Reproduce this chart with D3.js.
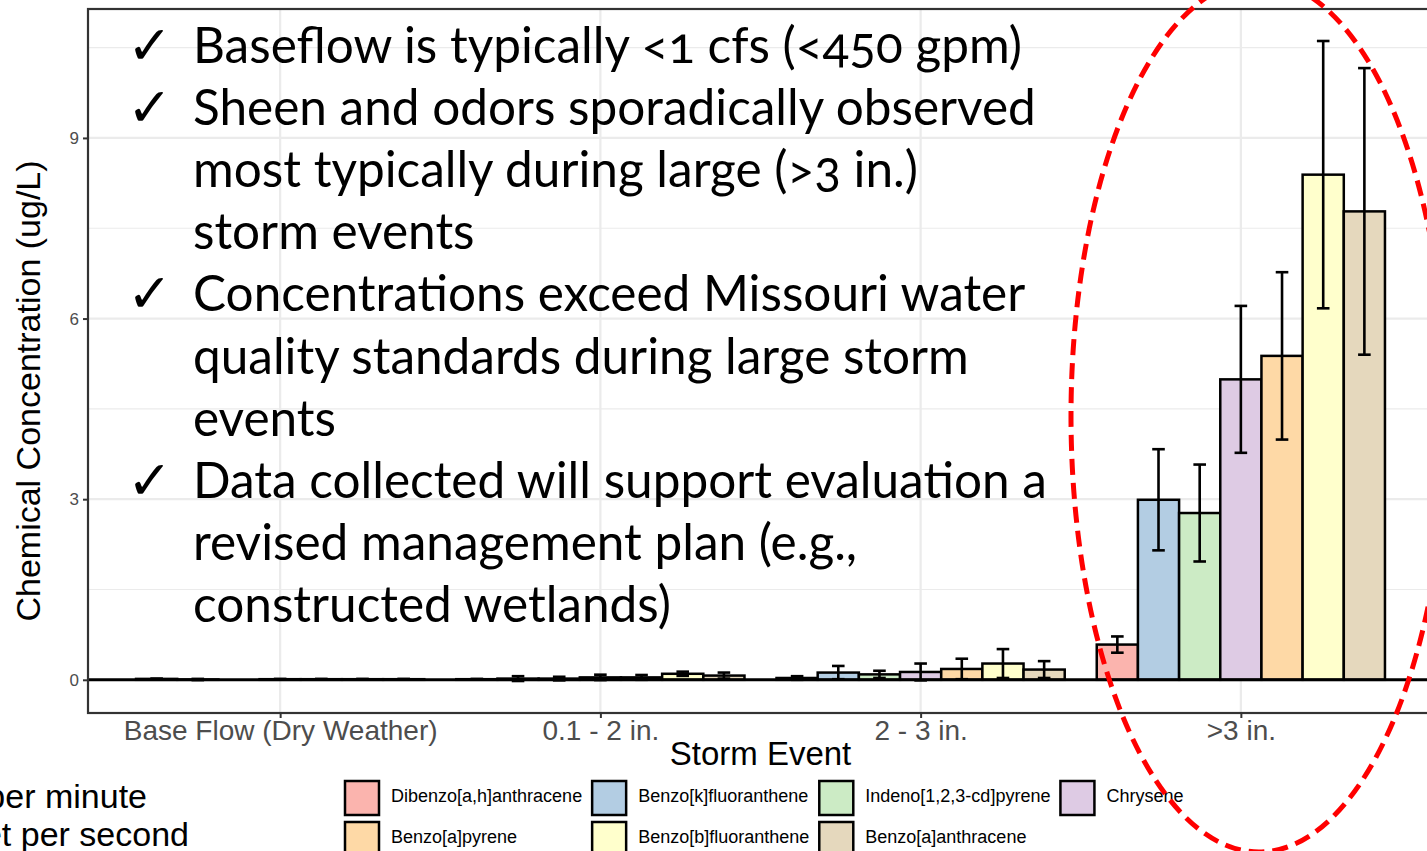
<!DOCTYPE html>
<html>
<head>
<meta charset="utf-8">
<script src="https://cdn.jsdelivr.net/npm/d3@7"></script>
<style>
  body { margin: 0; background: #fff; overflow: hidden; }
  svg { display: block; }
</style>
</head>
<body>
<script>
// storm categories on the x axis
const storms = ['Base Flow (Dry Weather)', '0.1 - 2 in.', '2 - 3 in.', '>3 in.'];
const chemicals = [
  'Dibenzo[a,h]anthracene', 'Benzo[k]fluoranthene', 'Indeno[1,2,3-cd]pyrene', 'Chrysene',
  'Benzo[a]pyrene', 'Benzo[b]fluoranthene', 'Benzo[a]anthracene',
];
const palette = ['#FBB4AE', '#B3CDE3', '#CCEBC5', '#DECBE4', '#FED9A6', '#FFFFCC', '#E5D8BD'];

// mean concentration (ug/L), one value per chemical, per storm class
const meanBase = [0.015, 0.005, 0.0, 0.01, 0.01, 0.01, 0.01];
const meanLight = [0.01, 0.02, 0.02, 0.04, 0.04, 0.10, 0.07];
const meanMid = [0.03, 0.12, 0.09, 0.13, 0.18, 0.27, 0.17];
const meanHeavy = [0.585, 2.99, 2.77, 4.99, 5.38, 8.39, 7.78];

// standard error (half height of the error bar)
const seBase = [0.005, 0.01, 0.0, 0.005, 0.005, 0.005, 0.005];
const seLight = [0.005, 0.04, 0.03, 0.045, 0.04, 0.035, 0.05];
const seMid = [0.03, 0.11, 0.06, 0.14, 0.17, 0.24, 0.14];
const seHeavy = [0.135, 0.84, 0.805, 1.22, 1.39, 2.22, 2.38];

const yTicks = [0, 3, 6, 9];

const bullets = [
  { check: true, text: 'Baseflow is typically <1 cfs (<450 gpm)' },
  { check: true, text: 'Sheen and odors sporadically observed' },
  { check: false, text: 'most typically during large (>3 in.)' },
  { check: false, text: 'storm events' },
  { check: true, text: 'Concentrations exceed Missouri water' },
  { check: false, text: 'quality standards during large storm' },
  { check: false, text: 'events' },
  { check: true, text: 'Data collected will support evaluation a' },
  { check: false, text: 'revised management plan (e.g.,' },
  { check: false, text: 'constructed wetlands)' },
];
const footnotes = ['gpm = gallons per minute', 'cfs = cubic feet per second'];

const means = [meanBase, meanLight, meanMid, meanHeavy];
const ses = [seBase, seLight, seMid, seHeavy];
const rows = storms.flatMap((s, i) => chemicals.map((c, j) => ({
  storm: s, chem: c, mean: means[i][j], lo: means[i][j] - ses[i][j], hi: means[i][j] + ses[i][j],
})));

const width = 1427;
const height = 851;
const panel = { left: 88, right: 1433, top: 9, bottom: 713 };
const sans = '"Liberation Sans", Arial, sans-serif';

const svg = d3.select('body').append('svg')
  .attr('width', width)
  .attr('height', height);

const x = d3.scalePoint().domain(storms).range([panel.left, panel.right]).padding(0.6);
const dodge = d3.scaleBand().domain(chemicals)
  .range([-0.45 * x.step(), 0.45 * x.step()]);
const color = d3.scaleOrdinal().domain(chemicals).range(palette);

const yMax = d3.max(rows, (d) => d.hi);
const yMin = Math.min(0, d3.min(rows, (d) => d.lo));
const pad = 0.05 * (yMax - yMin);
const y = d3.scaleLinear().domain([yMin - pad, yMax + pad]).range([panel.bottom, panel.top]);

svg.append('clipPath').attr('id', 'panel-clip')
  .append('rect')
  .attr('x', panel.left).attr('y', panel.top)
  .attr('width', panel.right - panel.left).attr('height', panel.bottom - panel.top);

const plot = svg.append('g').attr('clip-path', 'url(#panel-clip)');

// grid
plot.append('g').selectAll('line')
  .data(yTicks.map((t) => t + 1.5))
  .join('line')
  .attr('x1', panel.left).attr('x2', panel.right)
  .attr('y1', (d) => y(d)).attr('y2', (d) => y(d))
  .attr('stroke', '#EBEBEB').attr('stroke-width', 1.2);
plot.append('g').selectAll('line')
  .data(yTicks)
  .join('line')
  .attr('x1', panel.left).attr('x2', panel.right)
  .attr('y1', (d) => y(d)).attr('y2', (d) => y(d))
  .attr('stroke', '#EBEBEB').attr('stroke-width', 2.2);
plot.append('g').selectAll('line')
  .data(storms)
  .join('line')
  .attr('x1', (d) => x(d)).attr('x2', (d) => x(d))
  .attr('y1', panel.top).attr('y2', panel.bottom)
  .attr('stroke', '#EBEBEB').attr('stroke-width', 2.2);

// bars
plot.append('g').selectAll('rect')
  .data(rows)
  .join('rect')
  .attr('x', (d) => x(d.storm) + dodge(d.chem))
  .attr('width', dodge.bandwidth())
  .attr('y', (d) => y(d.mean))
  .attr('height', (d) => y(0) - y(d.mean))
  .attr('fill', (d) => color(d.chem))
  .attr('stroke', '#000')
  .attr('stroke-width', 2.5);

// error bars
const cap = 6.3;
const err = plot.append('g')
  .attr('stroke', '#000')
  .attr('stroke-width', 2.6)
  .selectAll('g')
  .data(rows.filter((d) => d.hi > d.lo))
  .join('g')
  .attr('transform', (d) => `translate(${x(d.storm) + dodge(d.chem) + dodge.bandwidth() / 2},0)`);
err.append('line').attr('y1', (d) => y(d.lo)).attr('y2', (d) => y(d.hi));
err.append('line').attr('x1', -cap).attr('x2', cap).attr('y1', (d) => y(d.hi)).attr('y2', (d) => y(d.hi));
err.append('line').attr('x1', -cap).attr('x2', cap).attr('y1', (d) => y(d.lo)).attr('y2', (d) => y(d.lo));

// zero line
plot.append('line')
  .attr('x1', panel.left).attr('x2', panel.right)
  .attr('y1', y(0)).attr('y2', y(0))
  .attr('stroke', '#000').attr('stroke-width', 3);

// panel border
svg.append('rect')
  .attr('x', panel.left).attr('y', panel.top)
  .attr('width', panel.right - panel.left).attr('height', panel.bottom - panel.top)
  .attr('fill', 'none').attr('stroke', '#333').attr('stroke-width', 2.2);

// axes
const yAxis = svg.append('g')
  .attr('transform', `translate(${panel.left},0)`)
  .call(d3.axisLeft(y).tickValues(yTicks).tickSize(5).tickPadding(4).tickFormat(d3.format('d')));
yAxis.select('.domain').remove();
yAxis.selectAll('line').attr('stroke', '#333').attr('stroke-width', 2);
yAxis.selectAll('text').attr('fill', '#4D4D4D').style('font', `17px ${sans}`);

const xAxis = svg.append('g')
  .attr('transform', `translate(0,${panel.bottom})`)
  .call(d3.axisBottom(x).tickSize(5).tickPadding(2));
xAxis.select('.domain').remove();
xAxis.selectAll('line').attr('stroke', '#333').attr('stroke-width', 2);
xAxis.selectAll('text').attr('fill', '#4D4D4D').style('font', `28px ${sans}`).attr('dy', '0.71em');

svg.append('text')
  .attr('transform', 'translate(40,391) rotate(-90)')
  .attr('text-anchor', 'middle')
  .style('font', `34px ${sans}`)
  .text('Chemical Concentration (ug/L)');

svg.append('text')
  .attr('x', (panel.left + panel.right) / 2)
  .attr('y', 765)
  .attr('text-anchor', 'middle')
  .style('font', `33px ${sans}`)
  .text('Storm Event');

// legend, 4 columns x 2 rows
const legend = svg.append('g').style('font', `18px ${sans}`);
const keySize = 34;
const colX = [345];
const items = chemicals.map((c, i) => ({ chem: c, col: i % 4, row: Math.floor(i / 4) }));
const probe = legend.append('text');
const colWidths = d3.range(4).map((col) => d3.max(items.filter((d) => d.col === col),
  (d) => probe.text(d.chem).node().getComputedTextLength()));
probe.remove();
for (let i = 1; i < 4; i += 1) colX.push(colX[i - 1] + keySize + 12 + colWidths[i - 1] + 10);
const rowY = [781, 822];
const key = legend.selectAll('g')
  .data(items)
  .join('g')
  .attr('transform', (d) => `translate(${colX[d.col]},${rowY[d.row]})`);
key.append('rect')
  .attr('width', keySize).attr('height', keySize)
  .attr('fill', (d) => color(d.chem))
  .attr('stroke', '#000').attr('stroke-width', 2.5);
key.append('text')
  .attr('x', keySize + 12)
  .attr('y', keySize / 2 - 2)
  .attr('dy', '0.35em')
  .text((d) => d.chem);

// footnotes cut off at the left edge, as on the slide
svg.append('g').style('font', `34px ${sans}`)
  .selectAll('text')
  .data(footnotes)
  .join('text')
  .attr('x', (d, i) => [147, 189][i])
  .attr('y', (d, i) => 808 + i * 38)
  .attr('text-anchor', 'end')
  .text((d) => d);

// bullet text over the plot
const notes = svg.append('g');
const lineText = notes.selectAll('text.line')
  .data(bullets)
  .join('text')
  .attr('class', 'line')
  .attr('x', 193)
  .attr('y', (d, i) => 63 + i * 62.1)
  .style('font-family', 'Lato, "Open Sans", sans-serif')
  .style('font-variant-numeric', 'oldstyle-nums')
  .style('font-size', '44px')
  .text((d) => d.text);
const w0 = lineText.filter((d, i) => i === 0).node().getComputedTextLength();
lineText.style('font-size', `${(44 * 829) / w0}px`);
notes.selectAll('text.check')
  .data(bullets.map((d, i) => ({ ...d, i })).filter((d) => d.check))
  .join('text')
  .attr('class', 'check')
  .attr('x', 127)
  .attr('y', (d) => 64 + d.i * 62.1)
  .style('font', '54px "DejaVu Sans", sans-serif')
  .text('\u2713');

// red dashed highlight
svg.append('ellipse')
  .attr('cx', 1259).attr('cy', 416)
  .attr('rx', 188).attr('ry', 436)
  .attr('fill', 'none')
  .attr('stroke', '#FF0000')
  .attr('stroke-width', 5)
  .attr('stroke-dasharray', '16 8');
</script>
</body>
</html>
